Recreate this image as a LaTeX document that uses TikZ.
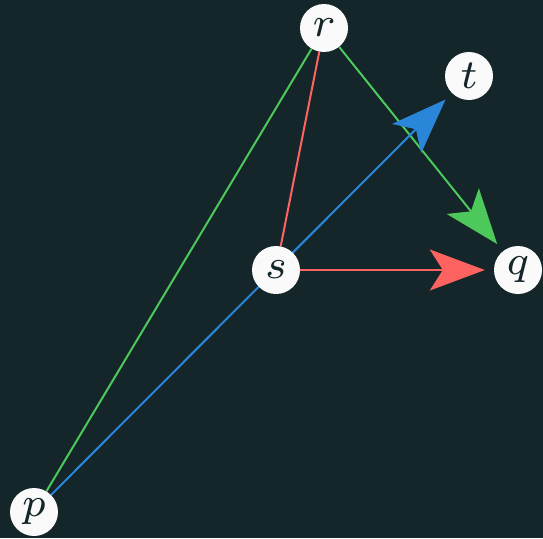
\documentclass[tikz,border=0pt]{standalone}
\usepackage{graphicx}
\usetikzlibrary{arrows.meta,backgrounds}
\definecolor{bg}{HTML}{14262A}
\definecolor{ngreen}{HTML}{4CC95A}
\definecolor{nred}{HTML}{FF6360}
\definecolor{nblue}{HTML}{2A86D9}
\definecolor{nwhite}{HTML}{FAFAFA}
\pgfdeclarelayer{canvas}
\pgfsetlayers{canvas,background,main}
\newcommand{\vlab}[1]{\scalebox{5.9}{$\scriptstyle #1$}}
\tikzset{
  vert/.style={circle,fill=nwhite,minimum size=48pt,inner sep=0pt,text=bg},
  edge/.style={line width=2pt},
  bigtip/.style={-{Stealth[length=55pt,width=41pt,inset=13pt]},shorten >=9pt},
}
\begin{document}
\begin{tikzpicture}[x=1pt,y=-1pt]
\begin{pgfonlayer}{canvas}
\fill[bg] (0,0) rectangle (543,538);
\end{pgfonlayer}
\useasboundingbox (0,0) rectangle (543,538);
\node[vert] (r) at (324,28) {\vlab{r}};
\node[vert] (t) at (469,76) {\vlab{t}};
\node[vert] (s) at (276,270) {\vlab{s}};
\node[vert] (q) at (518,270) {\vlab{q}};
\node[vert] (p) at (34,512) {\vlab{p}};
\begin{pgfonlayer}{background}
\draw[edge,ngreen] (p) -- (r);
\draw[edge,ngreen,bigtip] (r) -- (q);
\draw[edge,nred] (r) -- (s);
\draw[edge,nred,bigtip] (s) -- (q);
\draw[edge,nblue,bigtip] (p) -- (t);
\end{pgfonlayer}
\end{tikzpicture}
\end{document}
